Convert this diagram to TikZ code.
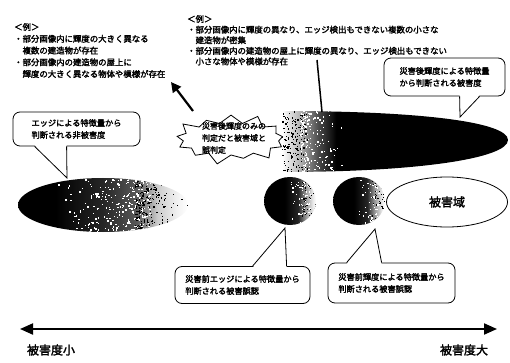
\documentclass[tikz,border=0pt]{standalone}
\usepackage{fontspec}
\setmainfont{Noto Sans CJK JP}[FakeBold=2.2]
\usetikzlibrary{arrows.meta,positioning,calc,shapes.geometric,shapes.symbols}

% horizontal fades for the damage blobs
\pgfdeclarehorizontalshading{lowfade}{100bp}{color(0bp)=(black); color(25bp)=(black); color(36bp)=(black); color(50bp)=(black!85); color(60bp)=(black!65); color(66bp)=(black!20); color(72bp)=(black!5); color(75bp)=(white); color(100bp)=(white)}
\pgfdeclarehorizontalshading{highfade}{100bp}{color(0bp)=(white); color(25bp)=(white); color(29bp)=(black!30); color(33bp)=(black!70); color(37bp)=(black); color(100bp)=(black)}
\pgfdeclarehorizontalshading{halffade}{100bp}{color(0bp)=(black); color(25bp)=(black); color(45bp)=(black); color(58bp)=(black!85); color(65bp)=(black!40); color(72bp)=(black!8); color(75bp)=(white); color(100bp)=(white)}

\tikzset{
  callout/.style={draw, line width=0.8pt, fill=white, rounded corners=7pt, align=left, inner sep=0pt, font=\fontsize{8.2}{12}\selectfont},
  tail/.style={line width=0.8pt},
  exnote/.style={anchor=north west, align=left, inner sep=0pt, font=\fontsize{8.4}{11.75}\selectfont},
  axislabel/.style={font=\fontsize{12}{14}\selectfont},
}

\begin{document}
\begin{tikzpicture}[x=1pt,y=-1pt]
\useasboundingbox (0,0) rectangle (510,363);

% examples
\node[exnote] (exleft) at (14,23) {＜例＞\\・部分画像内に輝度の大きく異なる\\　複数の建造物が存在\\・部分画像内の建造物の屋上に\\　輝度の大きく異なる物体や模様が存在};
\node[exnote, font=\fontsize{8.4}{10.6}\selectfont] (exright) at (187,15) {＜例＞\\・部分画像内に輝度の異なり、エッジ検出もできない複数の小さな\\　建造物が密集\\・部分画像内の建造物の屋上に輝度の異なり、エッジ検出もできない\\　小さな物体や模様が存在};

% blobs
\shade[shading=lowfade] (103,205) ellipse [x radius=85, y radius=27];
\shade[shading=highfade] (282,111) .. controls (420,111) and (508,122) .. (508,140) .. controls (508,158) and (420,172) .. (282,172) -- cycle;
\shade[shading=halffade] (290,201) ellipse [x radius=26, y radius=24];
\shade[shading=halffade] (359,201) ellipse [x radius=26, y radius=24];

% speckles
\pgfmathsetseed{17}
\begin{scope}
  \clip (103,205) ellipse [x radius=85, y radius=27];
  \foreach \k in {1,...,260}{
    \fill[white] ({55+95*sqrt(rnd)},{178+54*rnd}) rectangle +(1.4,1.4);
    \fill[black] ({135+55*rnd*rnd},{178+54*rnd}) rectangle +(1.2,1.2);
  }
\end{scope}
\begin{scope}
  \clip (282,111) .. controls (420,111) and (508,122) .. (508,140) .. controls (508,158) and (420,172) .. (282,172) -- cycle;
  \foreach \k in {1,...,160}{
    \fill[white] ({300+45*rnd*rnd},{111+61*rnd}) rectangle +(1.4,1.4);
    \fill[black] ({282+25*rnd},{111+61*rnd}) rectangle +(1.2,1.2);
  }
\end{scope}
\begin{scope}
  \clip (290,201) ellipse [x radius=26, y radius=24];
  \foreach \k in {1,...,60}{
    \fill[white] ({286+24*sqrt(rnd)},{177+48*rnd}) rectangle +(1.3,1.3);
    \fill[black] ({302+14*rnd},{177+48*rnd}) rectangle +(1.1,1.1);
  }
\end{scope}
\begin{scope}
  \clip (359,201) ellipse [x radius=26, y radius=24];
  \foreach \k in {1,...,60}{
    \fill[white] ({355+24*sqrt(rnd)},{177+48*rnd}) rectangle +(1.3,1.3);
    \fill[black] ({371+14*rnd},{177+48*rnd}) rectangle +(1.1,1.1);
  }
\end{scope}

\node[draw, ellipse, line width=0.8pt, minimum width=121pt, minimum height=50pt, font=\fontsize{12}{14}\selectfont] (area) at (447,202) {被害域};

% misjudgement
\node[starburst, draw, fill=white, line width=0.8pt, starburst points=13, starburst point height=11pt, minimum width=118pt, minimum height=54pt] (burst) at (231,139) {};
\node[align=left, inner sep=0pt, font=\fontsize{8}{12}\selectfont] (bursttext) at (234,138) {災害後輝度のみの\\判定だと被害域と\\誤判定};

\coordinate (arrowfoot) at (193,111);
\coordinate (arrowhead) at (171,82);
\draw[line width=2.2pt, -{Triangle[length=10pt,width=10pt]}] (arrowfoot) -- (arrowhead);

\coordinate (exfoot) at (317,60);
\coordinate (blobtop) at (322,112);
\draw[line width=1.5pt] (exfoot) -- (blobtop);

% callouts
\node[callout, minimum width=127pt, minimum height=34pt] (lbox) at (76.5,129) {エッジによる特徴量から\\判断される非被害度};
\coordinate (ltip) at (67,178);
\fill[white] ($(lbox.south west)+(22pt,1.5pt)$) -- (ltip) -- ($(lbox.south west)+(54pt,1.5pt)$) -- cycle;
\draw[tail] ($(lbox.south west)+(22pt,0)$) -- (ltip) -- ($(lbox.south west)+(54pt,0)$);

\node[callout, minimum width=121pt, minimum height=38pt] (rbox) at (444.5,77) {災害後輝度による特徴量\\から判断される被害度};
\coordinate (rtip) at (460,117);
\fill[white] ($(rbox.south west)+(76pt,1.5pt)$) -- (rtip) -- ($(rbox.south west)+(96pt,1.5pt)$) -- cycle;
\draw[tail] ($(rbox.south west)+(76pt,0)$) -- (rtip) -- ($(rbox.south west)+(96pt,0)$);

\node[callout, minimum width=135pt, minimum height=37pt] (blbox) at (242.5,285) {災害前エッジによる特徴量から\\判断される被害誤認};
\coordinate (bltip) at (285,228);
\fill[white] ($(blbox.north west)+(78pt,-1.5pt)$) -- (bltip) -- ($(blbox.north west)+(112pt,-1.5pt)$) -- cycle;
\draw[tail] ($(blbox.north west)+(78pt,0)$) -- (bltip) -- ($(blbox.north west)+(112pt,0)$);

\node[callout, minimum width=127pt, minimum height=40pt] (brbox) at (391.5,283) {災害前輝度による特徴量から\\判断される被害誤認};
\coordinate (brtip) at (375,229);
\fill[white] ($(brbox.north west)+(19pt,-1.5pt)$) -- (brtip) -- ($(brbox.north west)+(54pt,-1.5pt)$) -- cycle;
\draw[tail] ($(brbox.north west)+(19pt,0)$) -- (brtip) -- ($(brbox.north west)+(54pt,0)$);

% damage axis
\coordinate (lowend) at (20,329);
\coordinate (highend) at (497,329);
\draw[line width=2pt, {Triangle[length=13pt,width=11pt]}-{Triangle[length=13pt,width=11pt]}] (lowend) -- (highend);
\node[axislabel] (lowlabel) at (51,350) {被害度小};
\node[axislabel] (highlabel) at (464,350) {被害度大};
\end{tikzpicture}
\end{document}
